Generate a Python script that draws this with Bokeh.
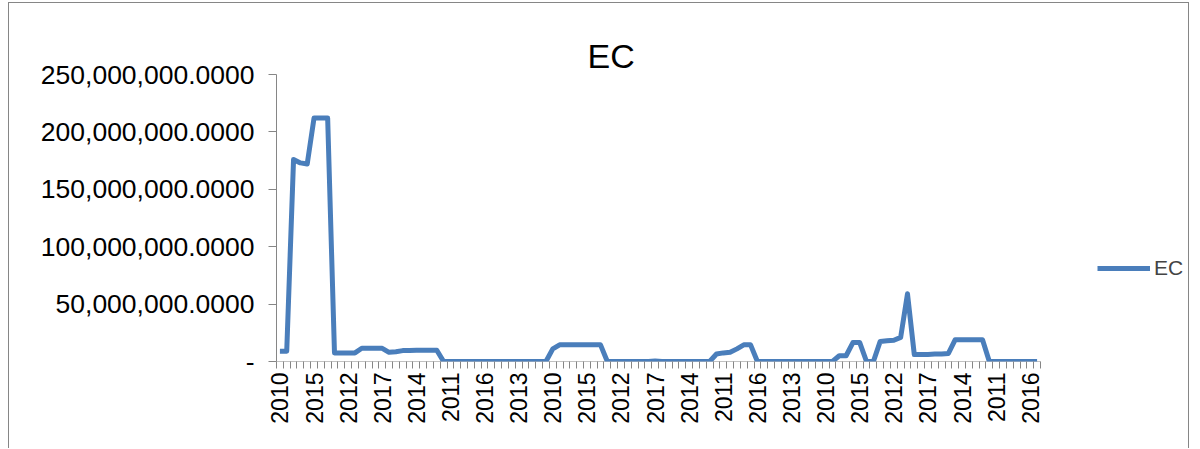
from bokeh.plotting import figure
from bokeh.models import FixedTicker, Legend, LegendItem, Range1d
from bokeh.embed import file_html
from bokeh.resources import INLINE

# ---- data ----
years = ["2010", "2011", "2012", "2013", "2014", "2015", "2016", "2017"]
categories = [y for _ in range(14) for y in years]  # 112 categories

M = 1_000_000
ec_values = [
    9.0*M, 9.0*M, 176*M, 173*M, 172*M, 212*M, 212*M, 212*M,
    7.5*M, 7.5*M, 7.5*M, 7.5*M, 11.5*M, 11.5*M, 11.5*M, 11.5*M,
    8.0*M, 8.5*M, 9.5*M, 9.5*M, 9.8*M, 9.8*M, 9.8*M, 9.8*M,
    0, 0, 0, 0, 0, 0, 0, 0,
    0, 0, 0, 0, 0, 0, 0, 0,
    11*M, 14.5*M, 14.5*M, 14.5*M, 14.5*M, 14.5*M, 14.5*M, 14.5*M,
    0, 0, 0, 0, 0, 0, 0, 0.5*M,
    0, 0, 0, 0, 0, 0, 0, 0,
    6.5*M, 7.5*M, 8.0*M, 11*M, 14.5*M, 14.5*M, 0, 0,
    0, 0, 0, 0, 0, 0, 0, 0,
    0, 0, 5*M, 5*M, 16.5*M, 16.5*M, 0, 0,
    17.5*M, 18*M, 18.5*M, 21*M, 59*M, 6*M, 6*M, 6.2*M,
    6.5*M, 6.5*M, 7*M, 19*M, 19*M, 19*M, 19*M, 19*M,
    0, 0, 0, 0, 0, 0, 0, 0,
]

y_tick_values = [0, 50*M, 100*M, 150*M, 200*M, 250*M]
y_tick_labels = ["-", "50,000,000.0000", "100,000,000.0000", "150,000,000.0000",
                 "200,000,000.0000", "250,000,000.0000"]
x_label_step = 5
series_name = "EC"
title_text = "EC"

# ---- figure ----
n = len(categories)
xs = list(range(n))
FONT = "Liberation Sans"
GRAY = "#868686"

CONTENT_W, CONTENT_H = 1181, 446
BORDER_L, BORDER_T, BORDER_B = 267, 71, 88
AXIS_PX = 764                      # pixel length of the category axis
frame_w = CONTENT_W - BORDER_L     # frame runs to the right edge (legend lives in it)
x_end = -0.5 + frame_w * n / AXIS_PX

p = figure(width=CONTENT_W, height=CONTENT_H, output_backend="svg", toolbar_location=None,
           x_range=Range1d(-0.5, x_end), y_range=Range1d(0, 250*M),
           min_border_left=BORDER_L, min_border_right=0, min_border_top=BORDER_T,
           min_border_bottom=BORDER_B)
p.outline_line_color = None
p.grid.visible = False
p.background_fill_color = "white"
p.border_fill_color = "white"
p.styles = {"margin-left": "8px", "margin-top": "2px",
            "border-left": "1px solid #868686", "border-top": "1px solid #868686",
            "border-right": "1px solid #868686"}

# category axis line (only over the categories)
p.line([-0.5, n - 0.5], [0, 0], color=GRAY, line_width=1)

r = p.line(xs, ec_values, line_width=5, color="#4a7ebb", line_join="round")

# title
p.title.text = title_text
p.title.align = "left"
p.title.offset = 311
p.title.text_font = FONT
p.title.text_font_size = "34px"
p.title.text_font_style = "normal"
p.title.text_color = "black"
p.title.standoff = 0

# x axis
xt = list(range(0, n, x_label_step))
p.xaxis.ticker = FixedTicker(ticks=xt, minor_ticks=[i - 0.5 for i in range(n + 1)])
p.xaxis.major_label_overrides = {i: categories[i] for i in xt}
p.xaxis.major_label_orientation = 3.14159265 / 2
p.xaxis.major_tick_line_color = None
p.xaxis.major_tick_out = 7
p.xaxis.major_tick_in = 0
p.xaxis.minor_tick_out = 7
p.xaxis.minor_tick_in = 0
p.xaxis.minor_tick_line_color = GRAY
p.xaxis.axis_line_color = None
p.xaxis.major_label_text_font = FONT
p.xaxis.major_label_text_font_size = "23px"
p.xaxis.major_label_text_color = "black"
p.xaxis.major_label_standoff = 4

# y axis
p.yaxis.ticker = FixedTicker(ticks=y_tick_values)
p.yaxis.major_label_overrides = dict(zip(y_tick_values, y_tick_labels))
p.yaxis.major_tick_out = 8
p.yaxis.major_tick_in = 0
p.yaxis.minor_tick_line_color = None
p.yaxis.major_tick_line_color = GRAY
p.yaxis.axis_line_color = GRAY
p.yaxis.major_label_text_font = FONT
p.yaxis.major_label_text_font_size = "26.5px"
p.yaxis.major_label_text_color = "black"
p.yaxis.major_label_standoff = 14

# legend (inside the extended frame, right of the category axis)
legend = Legend(items=[LegendItem(label=series_name, renderers=[r])],
                location=(821, 81), glyph_width=53, glyph_height=20,
                label_text_font=FONT, label_text_font_size="21px",
                padding=0, margin=0, border_line_color=None,
                background_fill_alpha=0, label_standoff=4)
p.add_layout(legend)

open("out.html", "w").write(file_html(p, INLINE))
